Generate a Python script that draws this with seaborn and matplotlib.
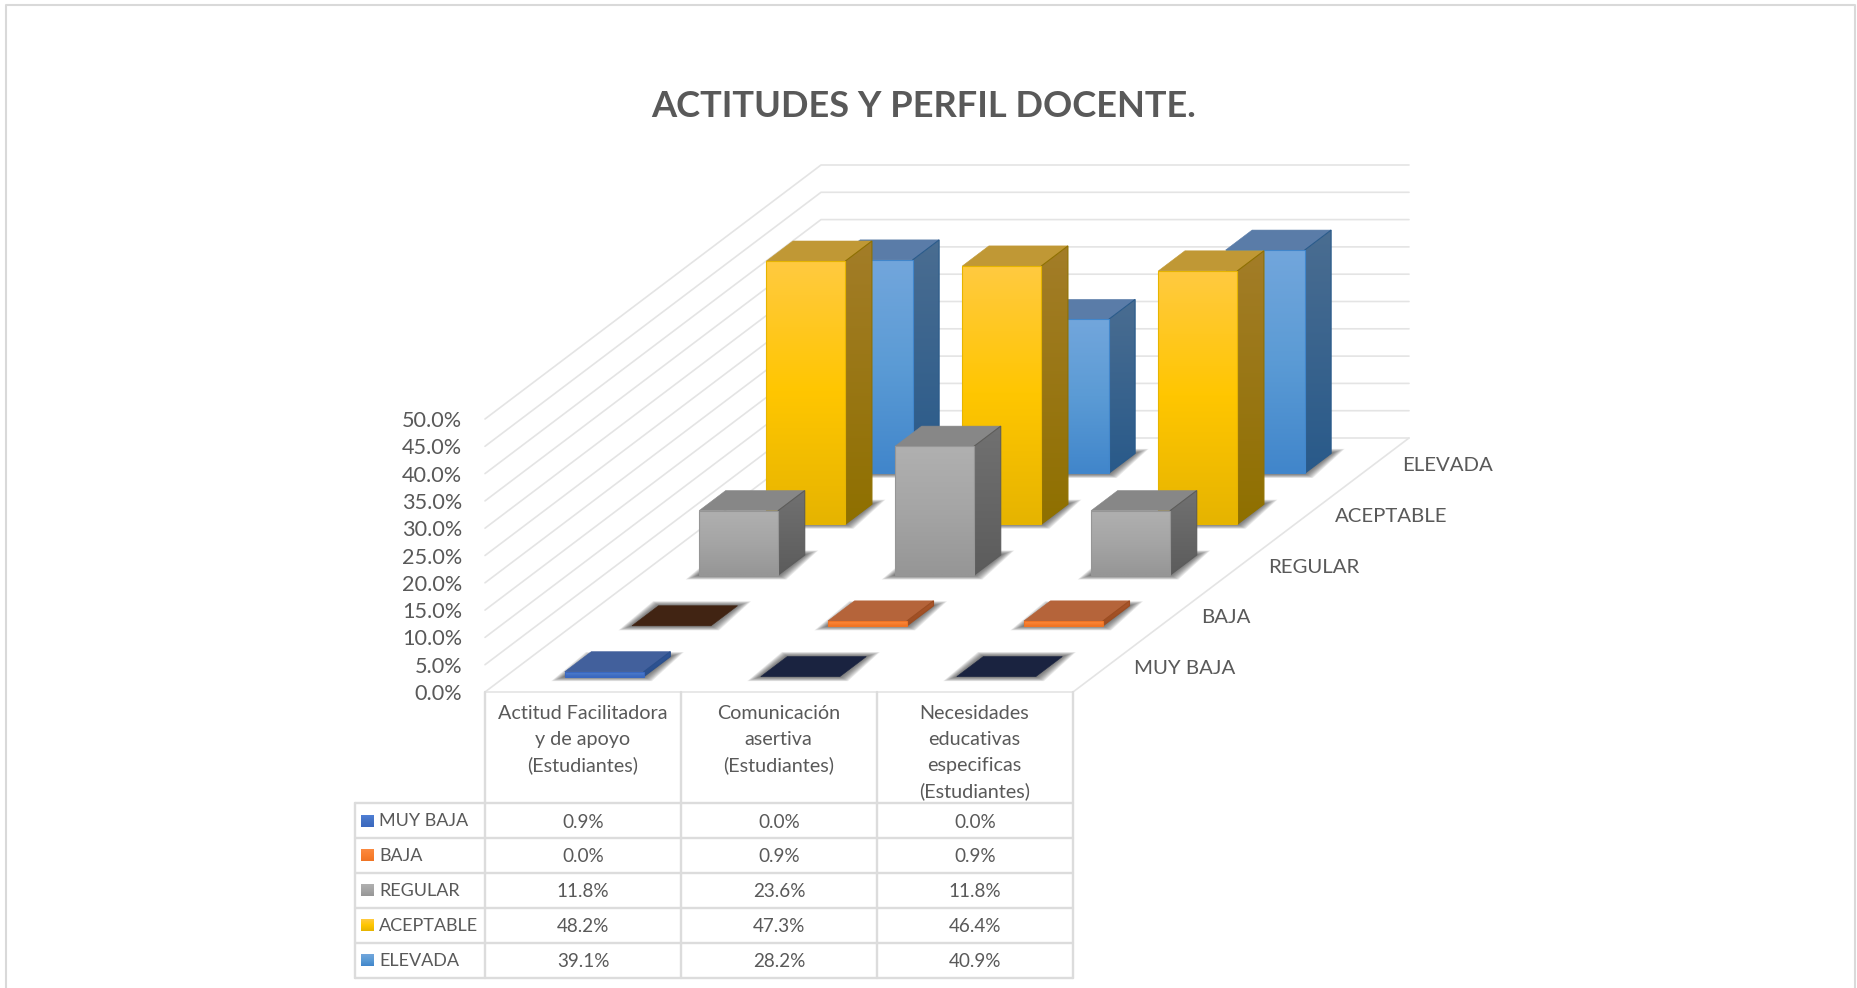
import numpy as np
import pandas as pd
import seaborn as sns
import matplotlib
matplotlib.use('Agg')
import matplotlib.pyplot as plt
from matplotlib.colors import to_rgb
from matplotlib.patches import Polygon

# Chart values
categories = ['Actitud Facilitadora\ny de apoyo\n(Estudiantes)',
              'Comunicación\nasertiva\n(Estudiantes)',
              'Necesidades\neducativas\nespecificas\n(Estudiantes)']
series_names = ['MUY BAJA', 'BAJA', 'REGULAR', 'ACEPTABLE', 'ELEVADA']
muy_baja = [0.9, 0.0, 0.0]
baja = [0.0, 0.9, 0.9]
regular = [11.8, 23.6, 11.8]
aceptable = [48.2, 47.3, 46.4]
elevada = [39.1, 28.2, 40.9]
value_ticks = [0, 5, 10, 15, 20, 25, 30, 35, 40, 45, 50]
title = 'ACTITUDES Y PERFIL DOCENTE.'
series_values = [muy_baja, baja, regular, aceptable, elevada]

# Face colours per series: front (top, middle, bottom), side (top, bottom), top face, top face when value is 0
styles = [
    dict(front=['#4f7fd6', '#4472c4', '#3a68c0'], side=['#2f5597', '#2b4f8c'], top='#42609c', zero='#1a2340'),
    dict(front=['#fb8a40', '#f97f2f', '#ef7425'], side=['#a9552a', '#9c4d22'], top='#b5643a', zero='#412413'),
    dict(front=['#b0b0b0', '#a5a5a5', '#969696'], side=['#717171', '#5c5c5c'], top='#878787', zero='#555555'),
    dict(front=['#ffca40', '#ffc600', '#e6b400'], side=['#a37d28', '#8f7000'], top='#c09835', zero='#6b5410'),
    dict(front=['#72a6dc', '#5b9bd5', '#4186cb'], side=['#4a6d91', '#295a8a'], top='#5a7ca8', zero='#203a5a'),
]

sns.set_theme(style='white')
plt.rcParams['font.family'] = ['Lato', 'DejaVu Sans']
text_color = '#595959'
grid_color = '#e4e4e4'
table_color = '#dcdcdc'

fig = plt.figure(figsize=(18.57, 9.88), dpi=100)
ax = fig.add_axes([0, 0, 1, 1])

# Oblique projection of the plot box onto figure pixels
origin = np.array([485.0, 692.0])
width_vec = np.array([588.0, 0.0])
depth_vec = np.array([336.0, -254.0])
px_per_unit = 5.46
bar_w = 0.1344
bar_d = 0.079
bar_shift = 0.0016


def project(u, d, value=0.0):
    p = origin + u * width_vec + d * depth_vec
    return np.array([p[0], p[1] - value * px_per_unit])


def gradient_face(corners, stops, z, edge=None):
    corners = np.array(corners)
    x0, y0 = corners.min(axis=0)
    x1, y1 = corners.max(axis=0)
    rgb = np.array([to_rgb(c) for c in stops])
    pos = np.linspace(0, 1, len(stops))
    t = np.linspace(0, 1, 64)
    col = np.stack([np.interp(t, pos, rgb[:, k]) for k in range(3)], axis=1)
    img = ax.imshow(col[:, None, :], extent=(x0, x1, y1, y0), aspect='auto',
                    interpolation='bilinear', zorder=z)
    clip = Polygon(corners, closed=True, transform=ax.transData)
    img.set_clip_path(clip)
    if edge is not None:
        # the clip edge is not antialiased, a thin outline hides the steps
        ax.add_patch(Polygon(corners, closed=True, fc='none', ec=edge, lw=0.8, zorder=z))


def shadow(fl, fr, br, bl, z):
    # soft halo made of stacked translucent footprints
    for k in range(9, 0, -1):
        dx = k * 1.5
        dy = k * 0.5
        pts = [fl + [-dx, dy], fr + [dx * 0.6, dy], br + [dx, -dy], bl + [-dx * 0.4, -dy]]
        ax.add_patch(Polygon(pts, closed=True, fc='#303030', ec='none', alpha=0.1, zorder=z))


# Gridlines on the two walls and the floor
grid_rows = []
for tick in value_ticks:
    a, b, c = project(0, 0, tick), project(0, 1, tick), project(1, 1, tick)
    for n, p in enumerate([a, b, c]):
        grid_rows.append(dict(px=p[0], py=p[1], line=f'wall{tick}', step=n))
for name, ends in dict(f0=[(1, 0), (1, 1)], f1=[(0, 0), (1, 0)]).items():
    for n, e in enumerate(ends):
        p = project(*e)
        grid_rows.append(dict(px=p[0], py=p[1], line=name, step=n))
grid = pd.DataFrame(grid_rows)
sns.lineplot(data=grid, x='px', y='py', units='line', estimator=None, sort=False,
             color=grid_color, lw=1.2, ax=ax, zorder=1)

# Table rules
row_y = [803.3, 838, 872.7, 907.7, 942.7, 977.7]
col_x = [project(i / 3, 0)[0] for i in range(4)]
legend_x = 354.5
table_rows = []
for n, y in enumerate(row_y):
    table_rows += [dict(px=legend_x, py=y, line=f'h{n}', step=0),
                   dict(px=col_x[-1], py=y, line=f'h{n}', step=1)]
table_rows += [dict(px=legend_x, py=row_y[0], line='vl', step=0),
               dict(px=legend_x, py=row_y[-1], line='vl', step=1)]
for n, x in enumerate(col_x):
    table_rows += [dict(px=x, py=origin[1], line=f'v{n}', step=0),
                   dict(px=x, py=row_y[-1], line=f'v{n}', step=1)]
sns.lineplot(data=pd.DataFrame(table_rows), x='px', y='py', units='line', estimator=None,
             sort=False, color=table_color, lw=1.7, ax=ax, zorder=1)

# Bars, back row first
z = 5
for s in range(len(series_names) - 1, -1, -1):
    st = series_values[s]
    style = styles[s]
    d_mid = (s + 0.5) / len(series_names)
    d0, d1 = d_mid - bar_d / 2, d_mid + bar_d / 2
    for c, val in enumerate(st):
        u_mid = (c + 0.5) / len(categories) + bar_shift
        u0, u1 = u_mid - bar_w / 2, u_mid + bar_w / 2
        fl, fr = project(u0, d0), project(u1, d0)
        br, bl = project(u1, d1), project(u0, d1)
        tfl, tfr = project(u0, d0, val), project(u1, d0, val)
        tbr, tbl = project(u1, d1, val), project(u0, d1, val)
        shadow(fl, fr, br, bl, z)
        z += 1
        top_col = style['top'] if val > 0 else style['zero']
        ax.add_patch(Polygon([tfl, tfr, tbr, tbl], closed=True, fc=top_col, ec=top_col, lw=0.4, zorder=z))
        z += 1
        if val > 0:
            gradient_face([fr, br, tbr, tfr], style['side'], z, edge=style['side'][1])
            z += 1
            gradient_face([fl, fr, tfr, tfl], style['front'], z, edge=style['front'][2])
            z += 1

# Axis labels
for tick in value_ticks:
    y = project(0, 0, tick)[1]
    ax.text(462, y, f'{tick:.1f}%', ha='right', va='center_baseline', fontsize=15.6,
            color=text_color, zorder=100)

for s, name in enumerate(series_names):
    p = project(1, (s + 0.5) / len(series_names))
    ax.text(p[0] + 27, p[1] + 0.5, name, ha='left', va='center_baseline', fontsize=14.7,
            color=text_color, zorder=100)

ax.text(924, 103.5, title, ha='center', va='center_baseline', fontsize=26.1, fontweight='bold',
        color=text_color, zorder=100)

# Table text
for c, label in enumerate(categories):
    cx = (col_x[c] + col_x[c + 1]) / 2
    for n, part in enumerate(label.split('\n')):
        ax.text(cx - 0.5, 711.7 + n * 26, part, ha='center', va='center_baseline', fontsize=14.2,
                color=text_color, zorder=100)

for s, name in enumerate(series_names):
    y_mid = (row_y[s] + row_y[s + 1]) / 2
    gradient_face([(361, y_mid - 6), (374, y_mid - 6), (374, y_mid + 6), (361, y_mid + 6)],
                  styles[s]['front'], 100)
    ax.text(379, y_mid - 1, name, ha='left', va='center_baseline', fontsize=13,
            color=text_color, zorder=100)
    for c, val in enumerate(series_values[s]):
        cx = (col_x[c] + col_x[c + 1]) / 2
        ax.text(cx, y_mid, f'{val:.1f}%', ha='center', va='center_baseline', fontsize=13.6,
                color=text_color, zorder=100)

# Outer frame, open at the bottom
ax.plot([6, 6, 1854.5, 1854.5], [988, 5, 5, 988], color='#d9d9d9', lw=1.5, zorder=100)

ax.set_xlim(0, 1857)
ax.set_ylim(988, 0)
ax.set_xlabel('')
ax.set_ylabel('')
ax.axis('off')
fig.savefig('out.png', dpi=100, facecolor='white')
